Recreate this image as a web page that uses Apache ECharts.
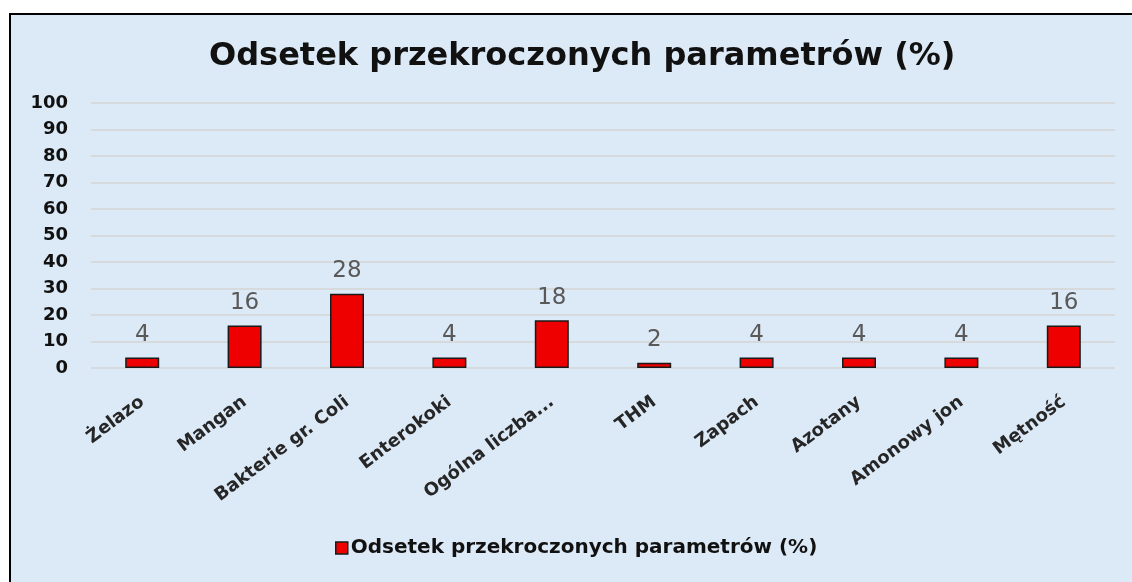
<!DOCTYPE html>
<html>
<head>
<meta charset="utf-8">
<script src="https://cdn.jsdelivr.net/npm/echarts@6/dist/echarts.min.js"></script>
<style>
  html, body { margin: 0; padding: 0; background: #fff; }
  #main { width: 1132px; height: 582px; }
</style>
</head>
<body>
<div id="main"></div>
<script>
// dane wykresu
var categories = ['Żelazo', 'Mangan', 'Bakterie gr. Coli', 'Enterokoki', 'Ogólna liczba...',
    'THM', 'Zapach', 'Azotany', 'Amonowy jon', 'Mętność'];
var values = [4, 16, 28, 4, 18, 2, 4, 4, 4, 16];
var seriesName = 'Odsetek przekroczonych parametrów (%)';
var titleText = 'Odsetek przekroczonych parametrów (%)';

var myChart = echarts.init(document.getElementById('main'));
var option = {
    backgroundColor: '#ffffff',
    animation: false,
    graphic: [
        {
            type: 'rect',
            z: -10,
            shape: { x: 10, y: 14, width: 1135, height: 580 },
            style: { fill: '#dce9f6', stroke: '#000', lineWidth: 2 }
        }
    ],
    title: {
        text: titleText,
        left: 204,
        top: 36,
        textStyle: {
            fontFamily: 'DejaVu Sans',
            fontWeight: 'bold',
            fontSize: 32,
            color: '#111'
        }
    },
    legend: {
        bottom: 19,
        left: 330,
        itemWidth: 12,
        itemHeight: 12,
        itemGap: 4,
        icon: 'rect',
        itemStyle: { borderColor: '#1a1a1a', borderWidth: 1.5 },
        textStyle: {
            fontFamily: 'DejaVu Sans',
            fontWeight: 'bold',
            fontSize: 20,
            color: '#111',
            padding: [0, 0, 0, -2]
        },
        data: [seriesName]
    },
    grid: {
        left: 91,
        right: 17,
        top: 103,
        bottom: 214,
        containLabel: false
    },
    xAxis: {
        type: 'category',
        data: categories,
        axisLine: { show: false },
        axisTick: { show: false },
        axisLabel: {
            rotate: 37,
            interval: 0,
            margin: 32,
            fontFamily: 'DejaVu Sans',
            fontWeight: 'bold',
            fontSize: 18,
            color: '#262626'
        }
    },
    yAxis: {
        type: 'value',
        min: 0,
        max: 100,
        interval: 10,
        axisLine: { show: false },
        axisTick: { show: false },
        axisLabel: {
            margin: 23,
            fontFamily: 'DejaVu Sans',
            fontWeight: 'bold',
            fontSize: 18,
            color: '#111'
        },
        splitLine: { lineStyle: { color: '#d4d4d4', width: 1.5 } }
    },
    series: [
        {
            name: seriesName,
            type: 'bar',
            data: values,
            barWidth: 34,
            itemStyle: {
                color: '#ee0000',
                borderColor: '#1a1a1a',
                borderWidth: 1.5
            },
            label: {
                show: true,
                position: 'top',
                distance: 11,
                fontFamily: 'DejaVu Sans',
                fontSize: 23,
                color: '#595959'
            }
        }
    ]
};
myChart.setOption(option, true);
window.onresize = myChart.resize;
</script>
</body>
</html>
